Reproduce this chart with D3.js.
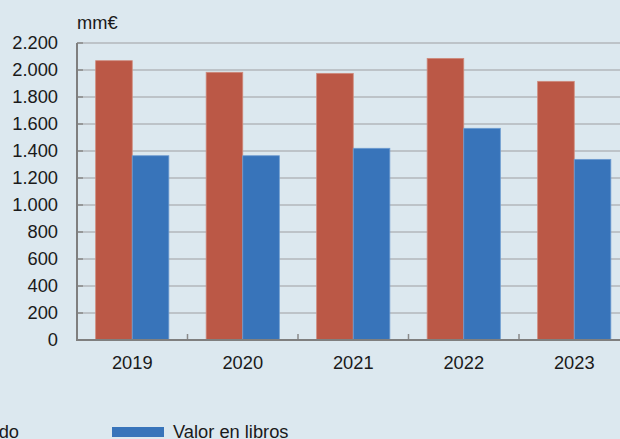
<!DOCTYPE html>
<html><head><meta charset="utf-8">
<script src="https://cdn.jsdelivr.net/npm/d3@7"></script>
<style>
html,body{margin:0;padding:0;background:#dce8ef;}
svg{display:block;font-family:"Liberation Sans",Arial,Helvetica,sans-serif;}
</style></head>
<body>
<svg id="c" width="620" height="439"></svg>
<script>
const categories = ["2019","2020","2021","2022","2023"];
const seriesNames = ["Valor de mercado","Valor en libros"];
const mercado = [2069,1983,1975,2086,1916];
const libros = [1365,1365,1420,1568,1338];
const yTicks = [0,200,400,600,800,1000,1200,1400,1600,1800,2000,2200];
const unit = "mm€";
const colors = ["#bb5846","#3874ba"];
const strokes = ["#cf8a7c","#6d9bd0"];

const svg = d3.select("#c");
const W = 620, H = 439;
svg.append("rect").attr("width",W).attr("height",H).attr("fill","#dce8ef");

const x0 = 77, x1 = 629.5, yTop = 43, yBot = 340;
const x = d3.scaleBand().domain(categories).range([x0,x1]).paddingInner(0).paddingOuter(0);
const inner = d3.scaleBand().domain([0,1]).range([0,x.bandwidth()]).paddingOuter(0.51).paddingInner(0);
const y = d3.scaleLinear().domain([0,2200]).range([yBot,yTop]);
const fmt = v => d3.format(",")(v).replace(/,/g,".");
const FS = 18.3;

// gridlines
svg.append("g").selectAll("line").data(yTicks.filter(d=>d>0)).join("line")
  .attr("x1",x0).attr("x2",W).attr("y1",d=>y(d)).attr("y2",d=>y(d))
  .attr("stroke","#b3b7bb").attr("stroke-width",1.5);

// bars
const data = categories.map((c,i)=>({c, v:[mercado[i],libros[i]]}));
const g = svg.append("g");
data.forEach(d=>{
  d.v.forEach((v,j)=>{
    g.append("rect")
      .attr("x",x(d.c)+inner(j)).attr("width",inner.bandwidth())
      .attr("y",y(v)).attr("height",yBot-y(v))
      .attr("fill",colors[j]).attr("stroke",strokes[j]).attr("stroke-width",0.8);
  });
});

// y axis ticks (inside)
const ya = d3.axisLeft(y).tickValues(yTicks).tickFormat(fmt).tickSize(0).tickPadding(19);
const yg = svg.append("g").attr("transform",`translate(${x0},0)`).call(ya);
yg.select(".domain").remove();
yg.selectAll("text").attr("font-size",FS).attr("fill","#1a1a1a").attr("font-family","Liberation Sans, Arial, sans-serif");
svg.append("g").selectAll("line").data(yTicks).join("line")
  .attr("x1",x0).attr("x2",x0+6).attr("y1",d=>y(d)).attr("y2",d=>y(d))
  .attr("stroke","#8a8a8a").attr("stroke-width",1.5);
svg.append("line").attr("x1",x0).attr("x2",x0).attr("y1",yTop).attr("y2",yBot+1)
  .attr("stroke","#7f7f7f").attr("stroke-width",2);

// x axis
const xa = d3.axisBottom(x).tickSize(0).tickPadding(16.5);
const xg = svg.append("g").attr("transform",`translate(0,${yBot})`).call(xa);
xg.select(".domain").remove();
xg.selectAll("text").attr("font-size",FS).attr("fill","#1a1a1a").attr("font-family","Liberation Sans, Arial, sans-serif");
svg.append("g").selectAll("line").data(categories.slice(1)).join("line")
  .attr("x1",d=>x(d)).attr("x2",d=>x(d)).attr("y1",yBot).attr("y2",yBot-6)
  .attr("stroke","#8a8a8a").attr("stroke-width",1.5);
svg.append("line").attr("x1",x0-1).attr("x2",W).attr("y1",yBot).attr("y2",yBot)
  .attr("stroke","#7f7f7f").attr("stroke-width",2);

// unit
svg.append("text").attr("x",77).attr("y",29).attr("font-size",FS).attr("fill","#1a1a1a").text(unit);

// legend
svg.append("rect").attr("x",-60).attr("y",427).attr("width",52).attr("height",10).attr("fill",colors[0]);
svg.append("text").attr("x",19).attr("y",438).attr("text-anchor","end").attr("font-size",FS).attr("fill","#1a1a1a").text(seriesNames[0]);
svg.append("rect").attr("x",112).attr("y",427).attr("width",52).attr("height",10).attr("fill",colors[1]);
svg.append("text").attr("x",173).attr("y",438).attr("font-size",FS).attr("fill","#1a1a1a").text(seriesNames[1]);
</script>
</body></html>
